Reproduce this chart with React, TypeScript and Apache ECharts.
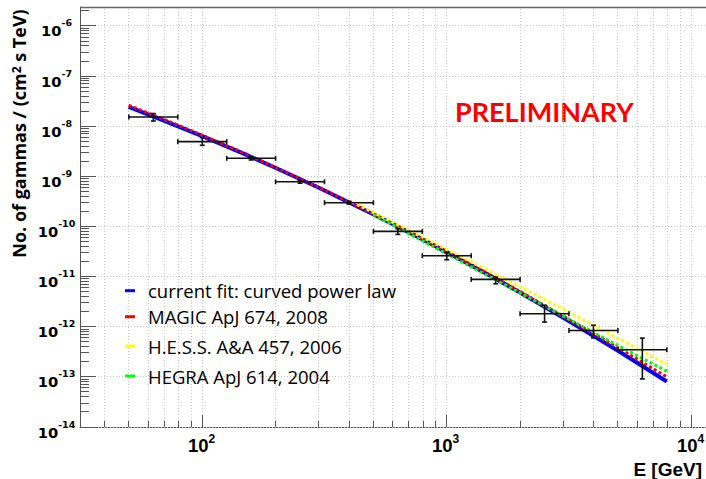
import React, { useEffect, useRef } from 'react';
import * as echarts from 'echarts';

// ---- data ----
const fitEnergy = [50, 70, 100, 150, 200, 300, 500, 700, 1000, 1500, 2000, 3000, 5000, 7943];
const fitFlux = [2.42e-8, 1.28e-8, 6.34e-9, 2.74e-9, 1.47e-9, 5.91e-10, 1.76e-10, 7.69e-11, 3.08e-11, 1.05e-11, 4.77e-12, 1.51e-12, 3.35e-13, 8.1e-14];
const magicEnergy = [50, 70, 100, 150, 200, 300, 500, 700, 1000, 1500, 2000, 3000, 5000, 7943];
const magicFlux = [2.62e-8, 1.36e-8, 6.62e-9, 2.82e-9, 1.5e-9, 6.0e-10, 1.79e-10, 7.81e-11, 3.16e-11, 1.09e-11, 5.0e-12, 1.62e-12, 3.85e-13, 1.0e-13];
const hessEnergy = [410, 500, 700, 1000, 1500, 2000, 3000, 5000, 7943];
const hessFlux = [3.08e-10, 1.9e-10, 8.4e-11, 3.5e-11, 1.28e-11, 6.24e-12, 2.25e-12, 5.9e-13, 1.8e-13];
const hegraEnergy = [500, 700, 1000, 1500, 2000, 3000, 5000, 7943];
const hegraFlux = [1.74e-10, 7.2e-11, 2.85e-11, 9.9e-12, 4.7e-12, 1.62e-12, 4.25e-13, 1.3e-13];

const binCenter = [63.1, 100, 158.5, 251.2, 398.1, 631, 1000, 1585, 2512, 3981, 6310];
const binLow = [50.1, 79.4, 125.9, 199.5, 316.2, 501.2, 794.3, 1259, 1995, 3162, 5012];
const binHigh = [79.4, 125.9, 199.5, 316.2, 501.2, 794.3, 1259, 1995, 3162, 5012, 7943];
const pointFlux = [1.53e-8, 4.93e-9, 2.29e-9, 7.8e-10, 2.98e-10, 7.98e-11, 2.61e-11, 8.79e-12, 1.82e-12, 8.43e-13, 3.48e-13];
const pointFluxLow = [1.27e-8, 4.16e-9, 2.12e-9, 7.3e-10, 2.8e-10, 6.95e-11, 2.17e-11, 7.2e-12, 1.24e-12, 6.0e-13, 9.1e-14];
const pointFluxHigh = [1.79e-8, 5.92e-9, 2.45e-9, 8.3e-10, 3.18e-10, 9.04e-11, 3.0e-11, 9.77e-12, 2.66e-12, 1.07e-12, 5.93e-13];

const seriesNames = [
  'current fit: curved power law',
  'MAGIC ApJ 674, 2008',
  'H.E.S.S. A&A 457, 2006',
  'HEGRA ApJ 614, 2004',
];
const seriesColors = ['#0000ff', '#ff0000', '#ffff00', '#00ff00'];

const xDecades = [10, 100, 1000, 10000];
const yDecades = [1e-14, 1e-13, 1e-12, 1e-11, 1e-10, 1e-9, 1e-8, 1e-7, 1e-6];
const minorSteps = [2, 3, 4, 5, 6, 7, 8, 9];

const X_MIN = 31.62;
const X_MAX = 11490;
const Y_MIN = 1e-14;
const Y_MAX = 2.39e-6;

const zip = (a: number[], b: number[]) => a.map((v, i) => [v, b[i]]);

const expLabel = (v: number) => `{b|10}{e|${Math.round(Math.log10(v))}}`;

const xRich = {
  b: { fontFamily: 'Liberation Sans', fontWeight: 'bold', fontSize: 18.5, lineHeight: 24, fill: '#000' },
  e: { fontFamily: 'Liberation Sans', fontWeight: 'bold', fontSize: 12, lineHeight: 8, fill: '#000', verticalAlign: 'top' },
};
const yRich = {
  b: { fontFamily: 'DejaVu Sans', fontWeight: 'bold', fontSize: 14.7, lineHeight: 26, fill: '#000' },
  e: { fontFamily: 'DejaVu Sans', fontWeight: 'bold', fontSize: 9.5, lineHeight: 11, fill: '#000', verticalAlign: 'top' },
};

export default function App() {
  const ref = useRef<HTMLDivElement>(null);
  useEffect(() => {
    if (!ref.current) return;
    const chart = echarts.init(ref.current, undefined, { renderer: 'svg' });

    const xTicks: { v: number; major: boolean }[] = [];
    xDecades.forEach((d) => {
      if (d >= X_MIN && d <= X_MAX) xTicks.push({ v: d, major: true });
      minorSteps.forEach((m) => {
        const v = d * m;
        if (v > X_MIN && v < X_MAX) xTicks.push({ v, major: false });
      });
    });
    const yTicks: { v: number; major: boolean }[] = [];
    yDecades.forEach((d) => {
      if (d >= Y_MIN && d <= Y_MAX) yTicks.push({ v: d, major: true });
      minorSteps.forEach((m) => {
        const v = d * m;
        if (v > Y_MIN && v < Y_MAX) yTicks.push({ v, major: false });
      });
    });

    const crisp = (v: number) => Math.round(v - 0.5) + 0.5;

    const decoRender = (params: any, api: any) => {
      const children: any[] = [];
      const bottom = api.coord([X_MIN, Y_MIN])[1];
      const top = api.coord([X_MIN, Y_MAX])[1];
      const left = api.coord([X_MIN, Y_MIN])[0];
      const right = api.coord([X_MAX, Y_MIN])[0];
      const grid = { stroke: '#c4c4c4', lineWidth: 1, lineDash: [1, 2] };
      xTicks.forEach((t) => {
        const x = crisp(api.coord([t.v, Y_MIN])[0]);
        children.push({ type: 'line', shape: { x1: x, y1: bottom, x2: x, y2: top }, style: grid });
      });
      yTicks.forEach((t) => {
        if (!t.major) return;
        const y = crisp(api.coord([X_MIN, t.v])[1]);
        children.push({ type: 'line', shape: { x1: left, y1: y, x2: right, y2: y }, style: grid });
      });
      const tickStyle = { stroke: '#555', lineWidth: 1 };
      xTicks.forEach((t) => {
        const x = crisp(api.coord([t.v, Y_MIN])[0]);
        const len = t.major ? 12 : 6;
        children.push({ type: 'line', shape: { x1: x, y1: bottom, x2: x, y2: bottom - len }, style: tickStyle });
        if (t.major) {
          children.push({
            type: 'text',
            x: x - 1,
            y: bottom + 18,
            style: { text: expLabel(t.v), rich: xRich, align: 'center', verticalAlign: 'middle' },
          });
        }
      });
      yTicks.forEach((t) => {
        const y = crisp(api.coord([X_MIN, t.v])[1]);
        const len = t.major ? 16 : 9;
        children.push({ type: 'line', shape: { x1: left, y1: y, x2: left + len, y2: y }, style: tickStyle });
        if (t.major) {
          children.push({
            type: 'text',
            x: left - 23.5,
            y: y + 4.6,
            style: { text: expLabel(t.v), rich: yRich, align: 'center', verticalAlign: 'middle' },
          });
        }
      });
      const ty = crisp(top);
      children.push({ type: 'line', shape: { x1: left, y1: ty, x2: right, y2: ty }, style: { stroke: '#666', lineWidth: 1.5 } });
      return { type: 'group', children };
    };

    const errRender = (params: any, api: any) => {
      const c = api.value(0);
      const f = api.value(1);
      const lo = api.value(2);
      const hi = api.value(3);
      const flo = api.value(4);
      const fhi = api.value(5);
      const pL = api.coord([lo, f]);
      const pH = api.coord([hi, f]);
      const pB = api.coord([c, flo]);
      const pT = api.coord([c, fhi]);
      const st = { stroke: '#111', lineWidth: 1.6 };
      const cap = 2.5;
      return {
        type: 'group',
        children: [
          { type: 'line', shape: { x1: pL[0], y1: pL[1], x2: pH[0], y2: pH[1] }, style: st },
          { type: 'line', shape: { x1: pL[0], y1: pL[1] - cap, x2: pL[0], y2: pL[1] + cap }, style: st },
          { type: 'line', shape: { x1: pH[0], y1: pH[1] - cap, x2: pH[0], y2: pH[1] + cap }, style: st },
          { type: 'line', shape: { x1: pB[0], y1: pB[1], x2: pT[0], y2: pT[1] }, style: st },
          { type: 'line', shape: { x1: pB[0] - cap, y1: pB[1], x2: pB[0] + cap, y2: pB[1] }, style: st },
          { type: 'line', shape: { x1: pT[0] - cap, y1: pT[1], x2: pT[0] + cap, y2: pT[1] }, style: st },
        ],
      };
    };

    const lineSeries = (name: string, color: string, data: number[][], solid: boolean) => ({
      type: 'line',
      name,
      data,
      showSymbol: false,
      symbol: 'none',
      z: 3,
      color,
      lineStyle: solid ? { color, width: 4 } : { color, width: 3, type: [3, 2.5] },
      silent: true,
    });

    const legendTops = [290.7, 316.7, 346, 376];

    chart.setOption({
      animation: false,
      backgroundColor: '#ffffff',
      grid: { left: 80, top: 7, right: 0, bottom: 52 },
      xAxis: {
        type: 'log',
        logBase: 10,
        min: X_MIN,
        max: X_MAX,
        axisLine: { show: true, lineStyle: { color: '#555', width: 1 } },
        axisTick: { show: false },
        splitLine: { show: false },
        axisLabel: { show: false },
      },
      yAxis: {
        type: 'log',
        logBase: 10,
        min: Y_MIN,
        max: Y_MAX,
        axisLine: { show: true, lineStyle: { color: '#555', width: 1 } },
        axisTick: { show: false },
        splitLine: { show: false },
        axisLabel: { show: false },
      },
      legend: seriesNames.map((n, i) => ({
        data: [n],
        orient: 'vertical',
        left: 125,
        top: legendTops[i] - 10,
        padding: 0,
        itemWidth: 10,
        itemHeight: 3,
        icon: 'rect',
        selectedMode: false,
        textStyle: { fontFamily: 'Open Sans', fontSize: 18.5, color: '#000', lineHeight: 20, padding: [0, 0, 0, 8] },
      })),
      graphic: [
        {
          type: 'text',
          x: 19,
          y: 133.5,
          rotation: Math.PI / 2,
          style: {
            text: '{a|No. of gammas / (cm}{s|2}{a| s TeV)}',
            align: 'center',
            verticalAlign: 'middle',
            rich: {
              a: { fontFamily: 'Open Sans', fontWeight: 'bold', fontSize: 18, lineHeight: 18, fill: '#000', verticalAlign: 'bottom', padding: [6, 0, 0, 0] },
              s: { fontFamily: 'Open Sans', fontWeight: 'bold', fontSize: 12, lineHeight: 12, fill: '#000', verticalAlign: 'top' },
            },
          },
        },
        {
          type: 'text',
          x: 702,
          y: 469,
          style: { text: 'E [GeV]', align: 'right', verticalAlign: 'middle', fontFamily: 'Liberation Sans', fontWeight: 'bold', fontSize: 19, fill: '#000' },
        },
        {
          type: 'text',
          x: 455,
          y: 111.5,
          style: { text: 'PRELIMINARY', align: 'left', verticalAlign: 'middle', fontFamily: 'Lato', fontWeight: 'bold', fontSize: 27, fill: '#ff0000' },
        },
      ],
      series: [
        {
          type: 'custom',
          name: 'frame',
          renderItem: decoRender,
          data: [[100, 1e-10]],
          clip: false,
          silent: true,
          z: 1,
        },
        lineSeries(seriesNames[0], seriesColors[0], zip(fitEnergy, fitFlux), true),
        lineSeries(seriesNames[1], seriesColors[1], zip(magicEnergy, magicFlux), false),
        lineSeries(seriesNames[2], seriesColors[2], zip(hessEnergy, hessFlux), false),
        lineSeries(seriesNames[3], seriesColors[3], zip(hegraEnergy, hegraFlux), false),
        {
          type: 'custom',
          name: 'data',
          renderItem: errRender,
          encode: { x: 0, y: 1 },
          data: binCenter.map((c, i) => [c, pointFlux[i], binLow[i], binHigh[i], pointFluxLow[i], pointFluxHigh[i]]),
          clip: false,
          silent: true,
          z: 5,
        },
      ],
    });
    return () => chart.dispose();
  }, []);
  return <div ref={ref} style={{ position: 'fixed', left: 0, top: 0, width: 706, height: 479 }} />;
}
